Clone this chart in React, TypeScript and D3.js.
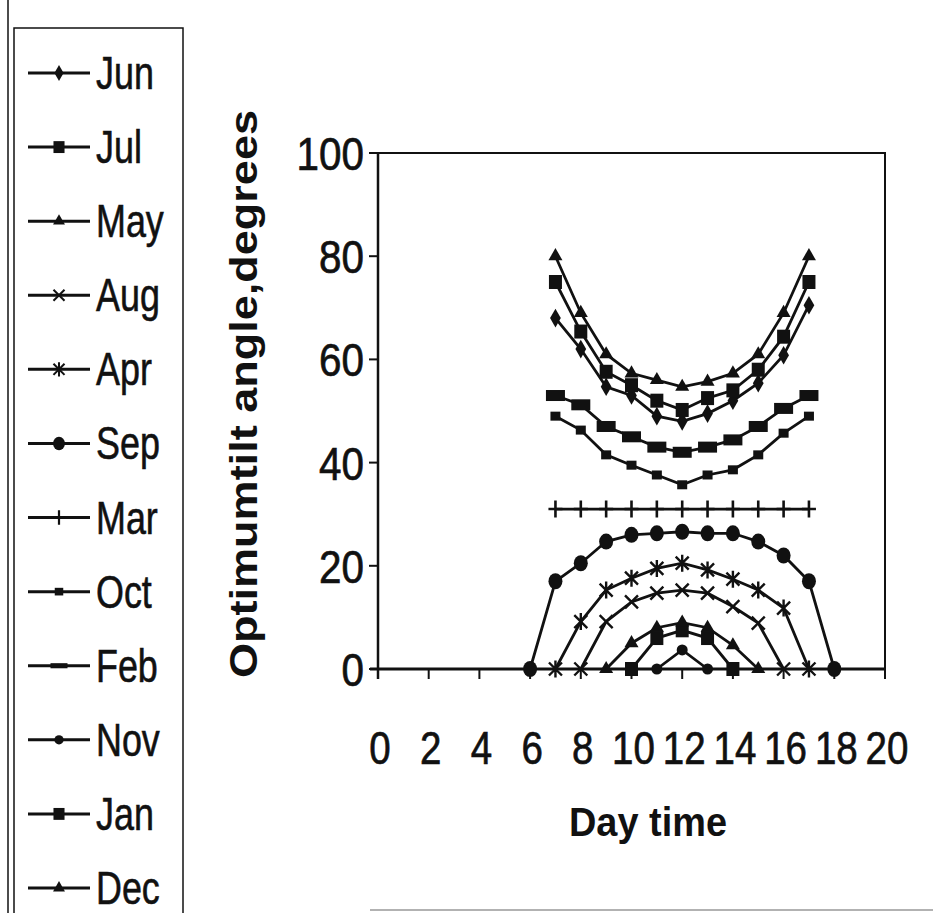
import * as d3 from "d3";

// ── Data ──────────────────────────────────────────────────────────────────────

const MONTHS = ["Jun", "Jul", "May", "Aug", "Apr", "Sep", "Mar", "Oct", "Feb", "Nov", "Jan", "Dec"];

const H_6_18  = [6, 7, 8, 9, 10, 11, 12, 13, 14, 15, 16, 17, 18];
const H_7_17  = [7, 8, 9, 10, 11, 12, 13, 14, 15, 16, 17];
const H_8_16  = [8, 9, 10, 11, 12, 13, 14, 15, 16];
const H_9_15  = [9, 10, 11, 12, 13, 14, 15];
const H_10_14 = [10, 11, 12, 13, 14];
const H_11_13 = [11, 12, 13];

const JUN = [68, 62, 54.7, 53, 49, 48, 49.5, 52, 55.4, 60.8, 70.5];
const JUL = [75, 65.4, 57.6, 55, 52, 50.2, 52.5, 54, 58, 64.4, 75];
const MAY = [80, 69, 61, 57.3, 56, 54.7, 55.7, 57.3, 61, 69, 80];
const AUG = [0, 9.2, 13, 14.7, 15.3, 14.7, 12.1, 8.9, 0];
const APR = [0, 9.2, 15.3, 17.6, 19.5, 20.5, 19.2, 17.4, 15.3, 11.8, 0];
const SEP = [0, 17, 20.5, 24.7, 26, 26.3, 26.6, 26.3, 26.3, 24.7, 22, 17, 0];
const MAR = [31, 31, 31, 31, 31, 31, 31, 31, 31, 31, 31];
const OCT = [49, 46.3, 41.5, 39.5, 37.6, 35.7, 37.6, 38.6, 41.5, 45.7, 49];
const FEB = [53, 51.2, 47, 45, 43, 42, 43, 44.4, 47, 50.5, 53];
const NOV = [0, 3.7, 0];
const JAN = [0, 6, 7.5, 6, 0];
const DEC = [0, 5, 8, 9, 8, 4.6, 0];

const X_TICKS = [0, 2, 4, 6, 8, 10, 12, 14, 16, 18, 20];
const Y_TICKS = [0, 20, 40, 60, 80, 100];

// ── Config ────────────────────────────────────────────────────────────────────

type MarkerKind = "diamond" | "square" | "triangle" | "x" | "star" | "circle" | "plus" | "dot" | "dash" | "smallcircle";

const SERIES: { name: string; hours: number[]; values: number[]; marker: MarkerKind }[] = [
  { name: "Jun", hours: H_7_17,  values: JUN, marker: "diamond" },
  { name: "Jul", hours: H_7_17,  values: JUL, marker: "square" },
  { name: "May", hours: H_7_17,  values: MAY, marker: "triangle" },
  { name: "Aug", hours: H_8_16,  values: AUG, marker: "x" },
  { name: "Apr", hours: H_7_17,  values: APR, marker: "star" },
  { name: "Sep", hours: H_6_18,  values: SEP, marker: "circle" },
  { name: "Mar", hours: H_7_17,  values: MAR, marker: "plus" },
  { name: "Oct", hours: H_7_17,  values: OCT, marker: "dot" },
  { name: "Feb", hours: H_7_17,  values: FEB, marker: "dash" },
  { name: "Nov", hours: H_11_13, values: NOV, marker: "smallcircle" },
  { name: "Jan", hours: H_10_14, values: JAN, marker: "square" },
  { name: "Dec", hours: H_9_15,  values: DEC, marker: "triangle" },
];

const W = 933;
const H = 913;
const PLOT = { left: 378, right: 885, top: 153, bottom: 669 };
const FONT = "'Liberation Sans', Arial, sans-serif";
const INK = "#111";

// ── Markers ───────────────────────────────────────────────────────────────────

const Marker = ({ kind, x, y, k = 1, legend = false }: { kind: MarkerKind; x: number; y: number; k?: number; legend?: boolean }) => {
  const t = `translate(${x},${y}) scale(${k})`;
  switch (kind) {
    case "diamond":
      return <path transform={t} d={d3.symbol(d3.symbolDiamond, 100)()!} fill={INK} />;
    case "square":
      return <rect transform={t} x={-6.5} y={-7} width={13} height={14} fill={INK} />;
    case "triangle":
      return <path transform={t} d={d3.symbol(d3.symbolTriangle, 85)()!} fill={INK} />;
    case "x":
      return <path transform={t} d="M-6.5,-6.5L6.5,6.5M-6.5,6.5L6.5,-6.5" stroke={INK} strokeWidth={2.4} fill="none" />;
    case "star":
      return <path transform={t} d="M-6.5,-6.5L6.5,6.5M-6.5,6.5L6.5,-6.5M0,-8.5L0,8.5" stroke={INK} strokeWidth={2.4} fill="none" />;
    case "circle":
      return <ellipse transform={t} rx={7} ry={8} fill={INK} />;
    case "plus":
      return <path transform={t} d="M0,-8.5L0,8.5M-7,0L7,0" stroke={INK} strokeWidth={2.6} fill="none" />;
    case "dot":
      return <rect transform={t} x={-5} y={-4.5} width={10} height={9} fill={INK} />;
    case "dash":
      return legend
        ? <rect transform={t} x={-10} y={-3} width={20} height={6} fill={INK} />
        : <rect transform={t} x={-9.5} y={-5.5} width={19} height={11} fill={INK} />;
    case "smallcircle":
      return <circle transform={t} r={5.5} fill={INK} />;
  }
};

// ── Component ─────────────────────────────────────────────────────────────────

const App = () => {
  const xScale = d3.scaleLinear().domain([0, 20]).range([PLOT.left, PLOT.right]);
  const yScale = d3.scaleLinear().domain([0, 100]).range([PLOT.bottom, PLOT.top]);

  const line = d3.line<[number, number]>()
    .x((d) => xScale(d[0]))
    .y((d) => yScale(d[1]));

  const legendY = d3.scalePoint<string>().domain(MONTHS).range([73, 888]);

  return (
    <svg
      width={W}
      height={H}
      style={{ position: "absolute", left: 0, top: 0, background: "#fff" }}
      fontFamily={FONT}
    >
      <rect x={0} y={0} width={W} height={H} fill="#fff" />

      {/* outer chart frame remnants */}
      <line x1={8} y1={0} x2={8} y2={H} stroke={INK} strokeWidth={1.5} />
      <line x1={370} y1={910} x2={W} y2={910} stroke="#999" strokeWidth={1.5} />

      {/* plot frame */}
      <path
        d={`M${PLOT.left},${PLOT.top}H${PLOT.right}V${PLOT.bottom}`}
        fill="none"
        stroke={INK}
        strokeWidth={2}
      />

      {/* y axis */}
      <line x1={PLOT.left} y1={PLOT.top} x2={PLOT.left} y2={PLOT.bottom + 10} stroke={INK} strokeWidth={2.5} />
      {Y_TICKS.map((v) => (
        <g key={`y${v}`}>
          <line x1={PLOT.left - 9} x2={PLOT.left} y1={yScale(v)} y2={yScale(v)} stroke={INK} strokeWidth={2} />
          <text
            transform={`translate(${PLOT.left - 14},${yScale(v) + 17}) scale(0.86,1)`}
            textAnchor="end"
            fontSize={47}
            fill={INK}
            stroke={INK}
            strokeWidth={0.7}
          >
            {v}
          </text>
        </g>
      ))}

      {/* x axis */}
      <line x1={PLOT.left - 8} y1={PLOT.bottom} x2={PLOT.right} y2={PLOT.bottom} stroke={INK} strokeWidth={3} />
      {X_TICKS.map((v) => (
        <g key={`x${v}`}>
          <line x1={xScale(v)} x2={xScale(v)} y1={PLOT.bottom} y2={PLOT.bottom + 10} stroke={INK} strokeWidth={2} />
          <text
            transform={`translate(${xScale(v) + 2},${PLOT.bottom + 95}) scale(0.82,1)`}
            textAnchor="middle"
            fontSize={47}
            fill={INK}
            stroke={INK}
            strokeWidth={0.7}
          >
            {v}
          </text>
        </g>
      ))}

      {/* axis titles */}
      <text
        transform={`translate(257,${(PLOT.top + PLOT.bottom) / 2 - 17}) rotate(-90)`}
        textAnchor="middle"
        fontSize={38}
        fontWeight="bold"
        fill={INK}
        textLength={568}
        lengthAdjust="spacingAndGlyphs"
      >
        Optimumtilt angle,degrees
      </text>
      <text
        x={648}
        y={836}
        textAnchor="middle"
        fontSize={40}
        fontWeight="bold"
        fill={INK}
        textLength={158}
        lengthAdjust="spacingAndGlyphs"
      >
        Day time
      </text>

      {/* series */}
      {SERIES.map((s) => {
        const pts = s.hours.map((h, i) => [h, s.values[i]] as [number, number]);
        return (
          <g key={s.name}>
            <path d={line(pts)!} fill="none" stroke={INK} strokeWidth={2.8} />
            {pts.map((p, i) => (
              <Marker key={i} kind={s.marker} x={xScale(p[0])} y={yScale(p[1])} />
            ))}
          </g>
        );
      })}

      {/* legend */}
      <rect x={14} y={28} width={169} height={H} fill="#fff" stroke={INK} strokeWidth={1.5} />
      {SERIES.map((s) => {
        const y = legendY(s.name)!;
        return (
          <g key={`lg${s.name}`}>
            <line x1={28} x2={90} y1={y} y2={y} stroke={INK} strokeWidth={3} />
            <Marker kind={s.marker} x={59} y={y} k={0.85} legend />
            <text
              transform={`translate(96,${y + 16}) scale(0.78,1)`}
              fontSize={46}
              fill={INK}
              stroke={INK}
              strokeWidth={0.6}
            >
              {s.name}
            </text>
          </g>
        );
      })}
    </svg>
  );
};

export default App;
